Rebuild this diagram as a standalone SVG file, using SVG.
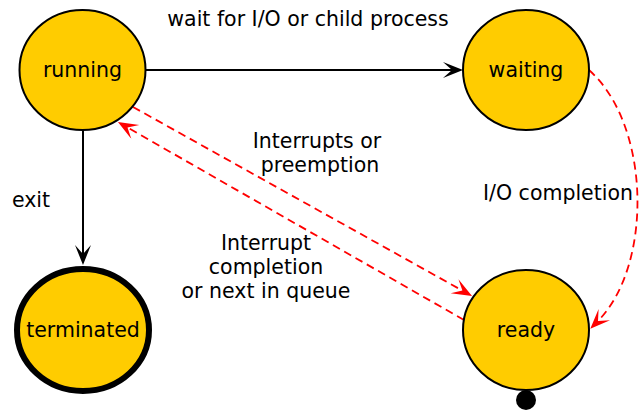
<svg xmlns="http://www.w3.org/2000/svg" width="639" height="412" viewBox="0 0 639 412">
  <style>
    .state { fill: #ffcc00; stroke: #000; stroke-width: 2; }
    .final { fill: #ffcc00; stroke: #000; stroke-width: 6; }
    .lbl { font-family: "DejaVu Sans", Verdana, sans-serif; font-size: 20.5px; fill: #000; text-anchor: middle; }
    .solid { fill: none; stroke: #000; stroke-width: 2; }
    .dash { fill: none; stroke: #ff0000; stroke-width: 1.8; stroke-dasharray: 8 5; }
  </style>
  <defs>
    <marker id="arrowBlack" markerUnits="userSpaceOnUse" markerWidth="22" markerHeight="18" refX="9" refY="8" orient="auto">
      <path d="M0,0 L20,8 L0,16 L9,8 Z" fill="#000"/>
    </marker>
    <marker id="arrowRed" markerUnits="userSpaceOnUse" markerWidth="22" markerHeight="18" refX="9" refY="8" orient="auto">
      <path d="M0,0 L20,8 L0,16 L9,8 Z" fill="#ff0000"/>
    </marker>
  </defs>

  <g id="connectors">
    <line class="solid" x1="146" y1="70" x2="452" y2="70" marker-end="url(#arrowBlack)"/>
    <line class="solid" x1="83" y1="130" x2="83" y2="254" marker-end="url(#arrowBlack)"/>
    <line class="dash" x1="133" y1="107" x2="462.4" y2="290.6" marker-end="url(#arrowRed)"/>
    <line class="dash" x1="464" y1="320" x2="127.5" y2="127.5" marker-end="url(#arrowRed)"/>
    <path class="dash" d="M589,70 C651,125 653,265 598,321" marker-end="url(#arrowRed)"/>
    <text class="lbl" x="308" y="26">wait for I/O or child process</text>
    <text class="lbl" x="31" y="207">exit</text>
    <text class="lbl" x="317" y="148">Interrupts or</text>
    <text class="lbl" x="320" y="172">preemption</text>
    <text class="lbl" x="266" y="250">Interrupt</text>
    <text class="lbl" x="266" y="274">completion</text>
    <text class="lbl" x="266" y="298">or next in queue</text>
    <text class="lbl" x="558" y="200">I/O completion</text>
  </g>

  <g id="running">
    <ellipse class="state" cx="82.5" cy="70" rx="63" ry="60"/>
    <text class="lbl" x="82.5" y="77">running</text>
  </g>
  <g id="waiting">
    <ellipse class="state" cx="526" cy="70" rx="63" ry="60"/>
    <text class="lbl" x="526" y="77">waiting</text>
  </g>
  <g id="terminated">
    <ellipse class="final" cx="83" cy="330" rx="66" ry="61"/>
    <text class="lbl" x="83" y="337">terminated</text>
  </g>
  <g id="ready">
    <ellipse class="state" cx="526" cy="330" rx="63" ry="60"/>
    <text class="lbl" x="526" y="337">ready</text>
    <circle cx="526" cy="400" r="10" fill="#000"/>
  </g>
</svg>
